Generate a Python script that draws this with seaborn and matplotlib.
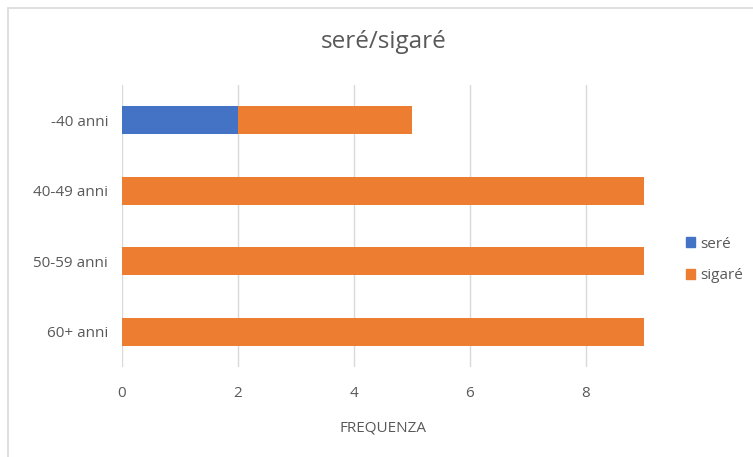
import matplotlib.pyplot as plt
import matplotlib.patches as mpatches
import numpy as np
import pandas as pd
import seaborn as sns

# Data
categories = ['-40 anni', '40-49 anni', '50-59 anni', '60+ anni']
sere = [2, 0, 0, 0]
sigare = [3, 9, 9, 9]
x_ticks = [0, 2, 4, 6, 8]

blue = '#4472C4'
orange = '#ED7D31'
grey_text = '#595959'

df = pd.DataFrame({'categoria': categories, 'seré': sere, 'sigaré': sigare})
df['totale'] = df['seré'] + df['sigaré']

sns.set_style('white')
plt.rcParams['font.family'] = ['Open Sans', 'DejaVu Sans']

fig = plt.figure(figsize=(7.53, 4.57), dpi=100)
ax = fig.add_axes([0.162, 0.197, 0.693, 0.617])

# stacked bars: total first (orange), then the seré part on top (blue)
sns.barplot(data=df, y='categoria', x='totale', color=orange, width=0.4,
            saturation=1, ax=ax, zorder=2, linewidth=0)
sns.barplot(data=df, y='categoria', x='seré', color=blue, width=0.4,
            saturation=1, ax=ax, zorder=3, linewidth=0)

ax.set_xlim(0, 9)
ax.set_ylim(3.5, -0.5)
ax.set_xticks(x_ticks)
ax.grid(axis='x', color='#D9D9D9', linewidth=1, zorder=0)
ax.grid(axis='y', visible=False)
for s in ax.spines.values():
    s.set_visible(False)
ax.tick_params(axis='both', length=0, labelsize=11, colors=grey_text)
ax.tick_params(axis='x', pad=14)
ax.tick_params(axis='y', pad=10)
ax.set_ylabel('')
ax.set_xlabel('FREQUENZA', fontsize=11, color=grey_text, labelpad=14)

fig.text(0.51, 0.908, 'seré/sigaré', ha='center', va='center',
         fontsize=17.5, color=grey_text)

handles = [mpatches.Patch(color=blue, label='seré'),
           mpatches.Patch(color=orange, label='sigaré')]
fig.legend(handles=handles, loc='center left', bbox_to_anchor=(0.893, 0.431),
           frameon=False, fontsize=11, handlelength=0.6, handleheight=0.6,
           handletextpad=0.3, labelspacing=1.1, labelcolor=grey_text)

# chart border (left and top visible, the rest runs off the image)
fig.patches.append(mpatches.Rectangle((0.011, -0.2), 1.2, 1.183,
                                      transform=fig.transFigure, fill=False,
                                      edgecolor='#D9D9D9', linewidth=1.2))

fig.savefig('out.png', dpi=100)
